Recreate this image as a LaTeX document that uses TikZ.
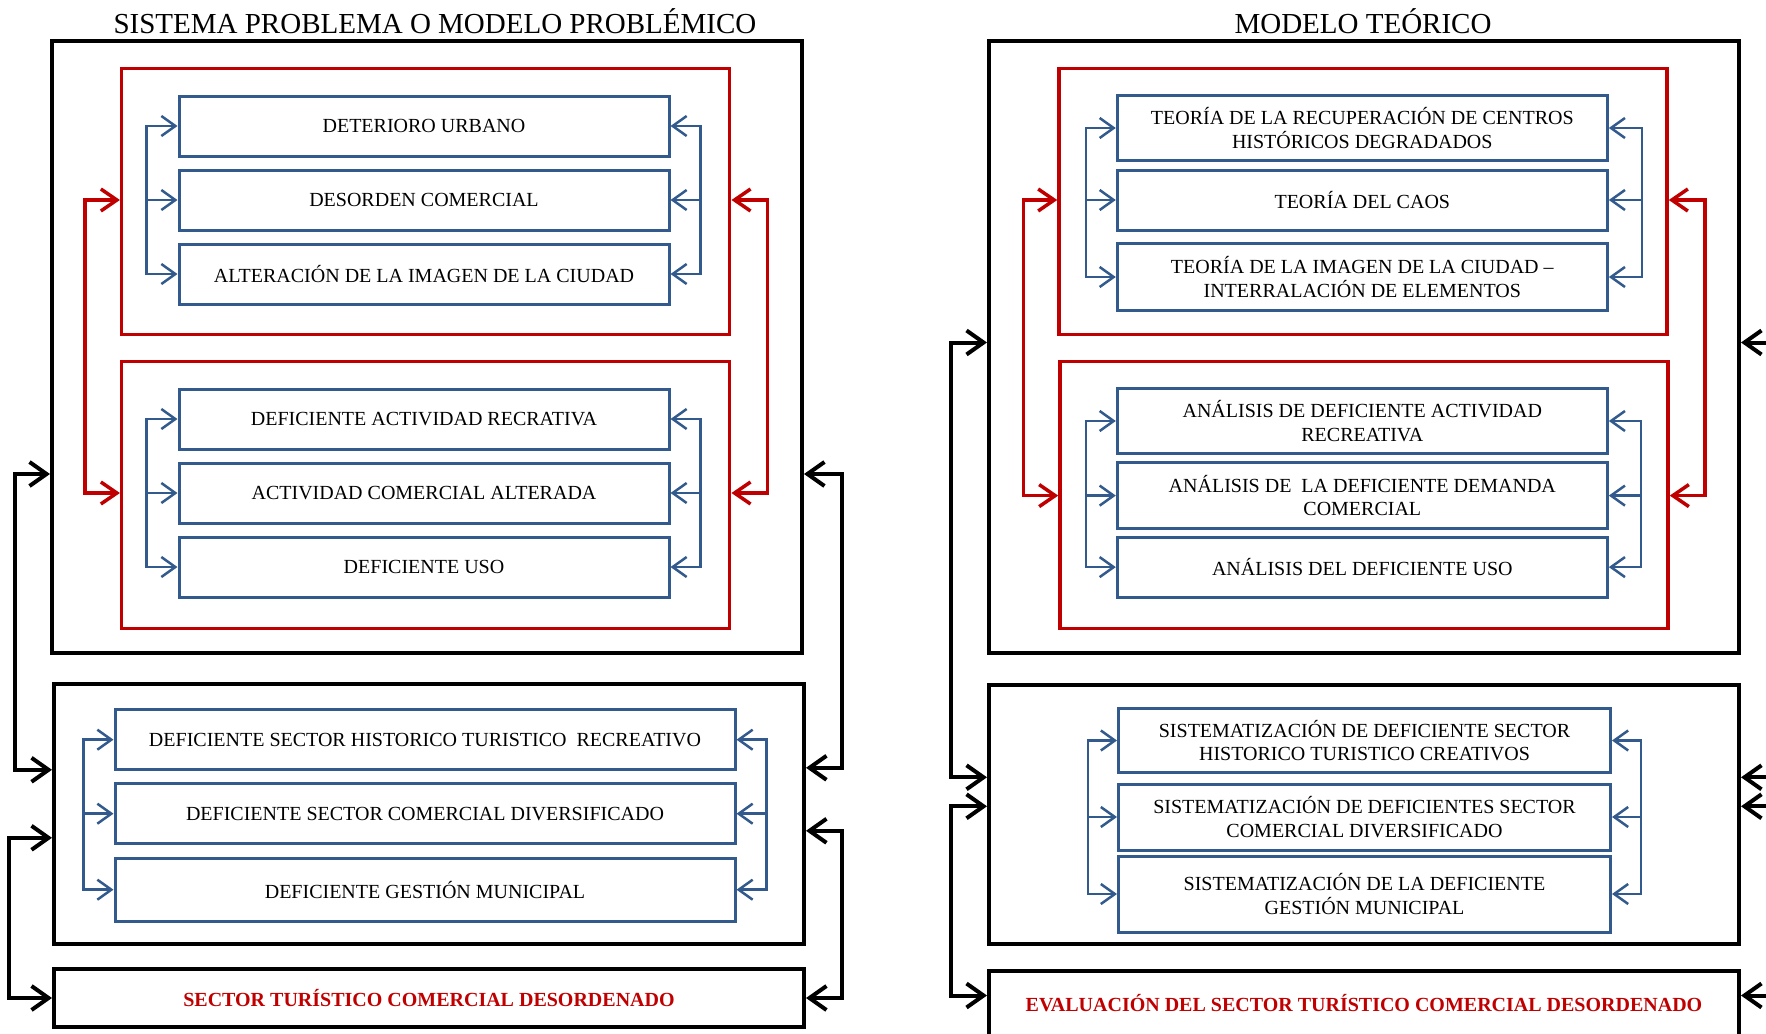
\documentclass[tikz,border=0pt]{standalone}
\usepackage{fontspec}
\setmainfont{Liberation Serif}
\usetikzlibrary{positioning, arrows.meta}
\definecolor{frameblue}{RGB}{50,90,140}
\definecolor{framered}{RGB}{192,0,0}

\begin{document}
\begin{tikzpicture}
    [
        x=1pt, y=-1pt, node distance=74pt, on grid,
        title_node/.style={anchor=base, font=\fontsize{29}{34}\selectfont},
        black_box/.style={rectangle, draw=black, line width=4pt, minimum width=750pt},
        red_box/.style={rectangle, draw=framered, line width=3.5pt, minimum width=608pt},
        blue_box/.style={rectangle, draw=frameblue, line width=3pt, minimum width=490pt, minimum height=60pt, align=center, font=\fontsize{20}{23.5}\selectfont},
        end_text/.style={text=framered, font=\fontsize{20}{23.5}\selectfont\bfseries},
        blue_line/.style={line width=2.5pt, color=frameblue, >={Straight Barb[length=14pt, width=20pt]}},
        red_line/.style={line width=3.5pt, color=framered, >={Straight Barb[length=16pt, width=22pt]}},
        black_line/.style={line width=4pt, color=black, >={Straight Barb[length=17pt, width=24pt]}},
    ]
        \useasboundingbox (0,0) rectangle (1766,1033) ;
        \clip (0,0) rectangle (1766,1033) ;
        \node[title_node] (t1) at (435,33.5) {SISTEMA PROBLEMA O MODELO PROBLÉMICO} ;
        \node[black_box, minimum height=611pt] (p1) at (427,347) {} ;
        \node[red_box, minimum height=266pt] (pr1) at (425.7,201.6) {} ;
        \node[red_box, minimum height=267pt] (pr2) at (425.7,495) {} ;
        \node[blue_box] (d2) at (424,200) {DESORDEN COMERCIAL} ;
        \node[blue_box] (d1) [above = of d2] {DETERIORO URBANO} ;
        \node[blue_box] (d3) [below = of d2] {ALTERACIÓN DE LA IMAGEN DE LA CIUDAD} ;
        \node[blue_box] (d5) at (424,493) {ACTIVIDAD COMERCIAL ALTERADA} ;
        \node[blue_box] (d4) [above = of d5] {DEFICIENTE ACTIVIDAD RECRATIVA} ;
        \node[blue_box] (d6) [below = of d5] {DEFICIENTE USO} ;
        \node[black_box, minimum height=260pt] (p2) at (429,813.8) {} ;
        \node[blue_box, minimum width=620pt] (e2) at (425,813.7) {DEFICIENTE SECTOR COMERCIAL DIVERSIFICADO} ;
        \node[blue_box, minimum width=620pt] (e1) [above = of e2] {DEFICIENTE SECTOR HISTORICO TURISTICO~ RECREATIVO} ;
        \node[blue_box, minimum width=620pt, minimum height=63pt] (e3) [below = 76pt of e2] {DEFICIENTE GESTIÓN MUNICIPAL} ;
        \node[black_box, minimum height=58.6pt, end_text] (p3) at (429,998) {SECTOR TURÍSTICO COMERCIAL DESORDENADO} ;
        \node[title_node] (t2) at (1363,33.5) {MODELO TEÓRICO} ;
        \node[black_box, minimum height=611pt] (q1) at (1364,347) {} ;
        \node[red_box, minimum height=266pt] (qr1) at (1363,201.6) {} ;
        \node[red_box, minimum height=267pt] (qr2) at (1364,495) {} ;
        \node[blue_box] (f2) at (1362.3,200) {TEORÍA DEL CAOS} ;
        \node[blue_box, minimum height=65pt] (f1) [above = 72pt of f2] {TEORÍA DE LA RECUPERACIÓN DE CENTROS\\HISTÓRICOS DEGRADADOS} ;
        \node[blue_box, minimum height=67pt] (f3) [below = 77pt of f2] {TEORÍA DE LA IMAGEN DE LA CIUDAD –\\INTERRALACIÓN DE ELEMENTOS} ;
        \node[blue_box, minimum height=66pt] (g2) at (1362.3,495.6) {ANÁLISIS DE~ LA DEFICIENTE DEMANDA\\COMERCIAL} ;
        \node[blue_box, minimum height=65pt] (g1) [above = 74.6pt of g2] {ANÁLISIS DE DEFICIENTE ACTIVIDAD\\RECREATIVA} ;
        \node[blue_box] (g3) [below = 71.5pt of g2] {ANÁLISIS DEL DEFICIENTE USO} ;
        \node[black_box, minimum height=259pt] (q2) at (1364,814.3) {} ;
        \node[blue_box, minimum width=492pt, minimum height=66pt] (h2) at (1364.5,817) {SISTEMATIZACIÓN DE DEFICIENTES SECTOR\\COMERCIAL DIVERSIFICADO} ;
        \node[blue_box, minimum width=492pt, minimum height=64pt] (h1) [above = 76.5pt of h2] {SISTEMATIZACIÓN DE DEFICIENTE SECTOR\\HISTORICO TURISTICO CREATIVOS} ;
        \node[blue_box, minimum width=492pt, minimum height=76pt] (h3) [below = 77pt of h2] {SISTEMATIZACIÓN DE LA DEFICIENTE\\GESTIÓN MUNICIPAL} ;
        \node[black_box, minimum height=65pt, end_text] (q3) at (1364,1003.5) {EVALUACIÓN DEL SECTOR TURÍSTICO COMERCIAL DESORDENADO} ;
        \coordinate (qe1) at (1790,342.5) ;
        \coordinate (qe2) at (1790,777.3) ;
        \coordinate (qe3) at (1790,806.3) ;
        \coordinate (qe4) at (1790,995.5) ;
        \draw[blue_line, <->] (d1.west) -- ++(-31,0) |- (d3.west) ;
        \draw[blue_line, ->] ([xshift=-31pt]d2.west) -- (d2.west) ;
        \draw[blue_line, <->] (d1.east) -- ++(30,0) |- (d3.east) ;
        \draw[blue_line, ->] ([xshift=30pt]d2.east) -- (d2.east) ;
        \draw[blue_line, <->] (d4.west) -- ++(-31,0) |- (d6.west) ;
        \draw[blue_line, ->] ([xshift=-31pt]d5.west) -- (d5.west) ;
        \draw[blue_line, <->] (d4.east) -- ++(30,0) |- (d6.east) ;
        \draw[blue_line, ->] ([xshift=30pt]d5.east) -- (d5.east) ;
        \draw[blue_line, <->] (e1.west) -- ++(-30,0) |- (e3.west) ;
        \draw[blue_line, ->] ([xshift=-30pt]e2.west) -- (e2.west) ;
        \draw[blue_line, <->] (e1.east) -- ++(30,0) |- (e3.east) ;
        \draw[blue_line, ->] ([xshift=30pt]e2.east) -- (e2.east) ;
        \draw[blue_line, <->] (f1.west) -- ++(-30,0) |- (f3.west) ;
        \draw[blue_line, ->] ([xshift=-30pt]f2.west) -- (f2.west) ;
        \draw[blue_line, <->] (f1.east) -- ++(33,0) |- (f3.east) ;
        \draw[blue_line, ->] ([xshift=33pt]f2.east) -- (f2.east) ;
        \draw[blue_line, <->] (g1.west) -- ++(-30,0) |- (g3.west) ;
        \draw[blue_line, ->] ([xshift=-30pt]g2.west) -- (g2.west) ;
        \draw[blue_line, <->] (g1.east) -- ++(32,0) |- (g3.east) ;
        \draw[blue_line, ->] ([xshift=32pt]g2.east) -- (g2.east) ;
        \draw[blue_line, <->] (h1.west) -- ++(-29,0) |- (h3.west) ;
        \draw[blue_line, ->] ([xshift=-29pt]h2.west) -- (h2.west) ;
        \draw[blue_line, <->] (h1.east) -- ++(29,0) |- (h3.east) ;
        \draw[blue_line, ->] ([xshift=29pt]h2.east) -- (h2.east) ;
        \draw[red_line, <->] (pr1.west |- d2) -- ++(-35,0) |- (pr2.west |- d5) ;
        \draw[red_line, <->] (pr1.east |- d2) -- ++(36,0) |- (pr2.east |- d5) ;
        \draw[red_line, <->] (qr1.west |- f2) -- ++(-34,0) |- (qr2.west |- g2) ;
        \draw[red_line, <->] (qr1.east |- f2) -- ++(36,0) |- (qr2.east |- g2) ;
        \draw[black_line, <->] ([yshift=-127pt]p1.west) -- ++(-35,0) |- ([yshift=44pt]p2.west) ;
        \draw[black_line, <->] ([yshift=-24pt]p2.west) -- ++(-43,0) |- (p3.west) ;
        \draw[black_line, <->] ([yshift=-127pt]p1.east) -- ++(38,0) |- ([yshift=46pt]p2.east) ;
        \draw[black_line, <->] ([yshift=-17pt]p2.east) -- ++(36,0) |- (p3.east) ;
        \draw[black_line, <->] ([yshift=4.5pt]q1.west) -- ++(-36,0) |- ([yshift=37pt]q2.west) ;
        \draw[black_line, <->] ([yshift=8pt]q2.west) -- ++(-36,0) |- ([yshift=8pt]q3.west) ;
        \draw[black_line, ->] (qe1) -- ([yshift=4.5pt]q1.east) ;
        \draw[black_line, ->] (qe2) -- ([yshift=37pt]q2.east) ;
        \draw[black_line, ->] (qe3) -- ([yshift=8pt]q2.east) ;
        \draw[black_line, ->] (qe4) -- ([yshift=8pt]q3.east) ;
    \end{tikzpicture}
\end{document}
